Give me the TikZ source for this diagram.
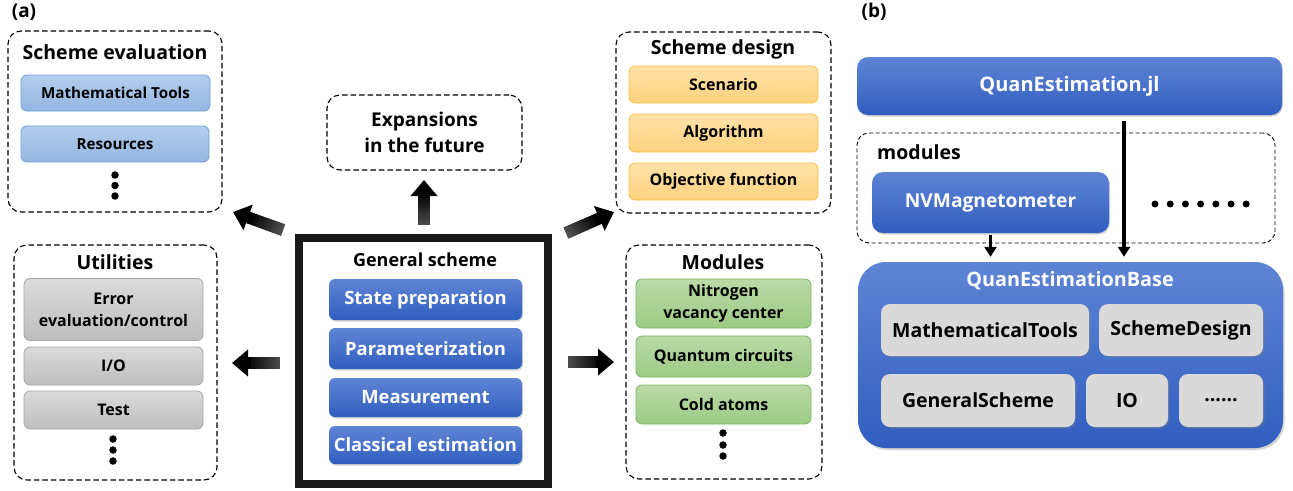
\documentclass[tikz,border=0pt]{standalone}
\usepackage{fontspec}
\setmainfont{Open Sans}
\usetikzlibrary{arrows.meta,shadows,positioning,calc,fadings}
\definecolor{lbtop}{HTML}{B3CDEC}
\definecolor{lbbot}{HTML}{94B6E1}
\definecolor{lbdraw}{HTML}{6FA0D8}
\definecolor{gytop}{HTML}{DADADA}
\definecolor{gybot}{HTML}{BEBEBE}
\definecolor{gydraw}{HTML}{A6A6A6}
\definecolor{bltop}{HTML}{5F84D5}
\definecolor{blbot}{HTML}{305EBF}
\definecolor{ortop}{HTML}{FFE2A8}
\definecolor{orbot}{HTML}{FFD27E}
\definecolor{ordraw}{HTML}{F6C445}
\definecolor{grtop}{HTML}{B9DAA7}
\definecolor{grbot}{HTML}{9CCB85}
\definecolor{grdraw}{HTML}{7DB55F}
\definecolor{gbox}{HTML}{D9D9D9}
\definecolor{tailgray}{HTML}{5A5A5A}
\tikzset{
  every node/.style={font=\bfseries, inner sep=0pt},
  dashbox/.style={draw=black, line width=1.1pt, dash pattern=on 5.5pt off 3pt, rounded corners=13pt},
  ttl/.style={font=\bfseries\fontsize{19.5}{21}\selectfont},
  lblue/.style={draw=lbdraw, line width=0.8pt, top color=lbtop, bottom color=lbbot, rounded corners=6pt, font=\bfseries\fontsize{15.2}{17}\selectfont, align=center},
  lgray/.style={draw=gydraw, line width=0.8pt, top color=gytop, bottom color=gybot, rounded corners=6pt, font=\bfseries\fontsize{16}{22}\selectfont, align=center},
  lorange/.style={draw=ordraw, line width=0.8pt, top color=ortop, bottom color=orbot, rounded corners=6pt, font=\bfseries\fontsize{16}{17}\selectfont, align=center},
  lgreen/.style={draw=grdraw, line width=0.8pt, top color=grtop, bottom color=grbot, rounded corners=6pt, font=\bfseries\fontsize{16}{21.5}\selectfont, align=center},
  bluebox/.style={top color=bltop, bottom color=blbot, rounded corners=6pt, text=white, font=\bfseries\fontsize{18.4}{20}\selectfont,
    drop shadow={opacity=0.35, shadow xshift=1pt, shadow yshift=-1.5pt}},
  graybox/.style={fill=gbox, rounded corners=9pt, font=\bfseries\fontsize{19.5}{20}\selectfont,
    drop shadow={opacity=0.35, shadow xshift=1.5pt, shadow yshift=-1.5pt}},
  fatarrow/.style={line width=12pt, black, -{Triangle[length=16pt, width=26pt]}},
  tailfade/.style={line width=12pt, tailgray, path fading=east},
  thinarrow/.style={line width=3.5pt, black, -{Triangle[length=10pt, width=12pt]}},
  dotmark/.style={circle, fill=black, minimum size=7.5pt},
  panel/.style={font=\bfseries\fontsize{19}{20}\selectfont}
}
\begin{document}
\begin{tikzpicture}[x=1pt,y=-1pt]
\useasboundingbox[fill=white] (0,0) rectangle (1293,490);

% panel labels
\node[panel] (la) at (24,12) {(a)};
\node[panel] (lb) at (874,12) {(b)};

% Scheme evaluation
\node[dashbox, minimum width=214pt, minimum height=181pt] (se) at (115,121.5) {};
\node[ttl] (set) at (115,52) {Scheme evaluation};
\node[lblue, minimum width=189pt, minimum height=36pt] (mt) at (115.5,93) {Mathematical Tools};
\node[lblue, minimum width=188pt, minimum height=36pt] (res) at (115,144) {Resources};
\node[dotmark] (sed1) at (115,175) {};
\node[dotmark] (sed2) at (115,185.5) {};
\node[dotmark] (sed3) at (115,196) {};

% Utilities
\node[dashbox, minimum width=203pt, minimum height=235pt] (ut) at (115.5,362.5) {};
\node[ttl] (utt) at (115,262) {Utilities};
\node[lgray, minimum width=179pt, minimum height=62pt] (err) at (113.5,309.5) {Error\\evaluation/control};
\node[lgray, minimum width=179pt, minimum height=38pt] (io) at (113.5,366) {I/O};
\node[lgray, minimum width=179pt, minimum height=38pt] (test) at (113.5,410) {Test};
\node[dotmark] (utd1) at (113,439) {};
\node[dotmark] (utd2) at (113,450) {};
\node[dotmark] (utd3) at (113,461) {};

% Expansions
\node[dashbox, minimum width=195pt, minimum height=75pt, font=\bfseries\fontsize{19}{26}\selectfont, align=center] (exp) at (424.5,132.5) {Expansions\\in the future};

% General scheme
\node[draw=black!90, line width=8pt, minimum width=249pt, minimum height=246pt] (gs) at (423.5,361) {};
\node[font=\bfseries\fontsize{18}{20}\selectfont] (gst) at (425,260) {General scheme};
\node[bluebox, minimum width=193pt, minimum height=41pt] (sp) at (425.5,299.5) {State preparation};
\node[bluebox, minimum width=193pt, minimum height=41pt] (par) at (425.5,348.5) {Parameterization};
\node[bluebox, minimum width=193pt, minimum height=39pt] (meas) at (425.5,397.5) {Measurement};
\node[bluebox, minimum width=193pt, minimum height=38pt] (ce) at (425.5,445) {Classical estimation};

% Scheme design
\node[dashbox, minimum width=215pt, minimum height=181pt] (sd) at (723.5,122.5) {};
\node[ttl] (sdt) at (723,49) {Scheme design};
\node[lorange, minimum width=189pt, minimum height=37pt] (scen) at (723.5,84.5) {Scenario};
\node[lorange, minimum width=189pt, minimum height=38pt] (alg) at (723.5,133) {Algorithm};
\node[lorange, minimum width=189pt, minimum height=37pt] (obj) at (723.5,181.5) {Objective function};

% Modules
\node[dashbox, minimum width=196pt, minimum height=234pt] (mod) at (724,362) {};
\node[ttl] (modt) at (723,262) {Modules};
\node[lgreen, minimum width=175pt, minimum height=49pt] (nv) at (723.5,303.5) {Nitrogen\\vacancy center};
\node[lgreen, minimum width=175pt, minimum height=41pt] (qc) at (723.5,356.5) {Quantum circuits};
\node[lgreen, minimum width=175pt, minimum height=39pt] (ca) at (723.5,404.5) {Cold atoms};
\node[dotmark] (mdd1) at (723,433) {};
\node[dotmark] (mdd2) at (723,445) {};
\node[dotmark] (mdd3) at (723,456) {};

% fat arrows
\coordinate (ulT) at (283,230);
\coordinate (ulH) at (233,212);
\coordinate (urT) at (566,233);
\coordinate (urH) at (614,212);
\coordinate (upT) at (424,225);
\coordinate (upH) at (424,180);
\coordinate (lT) at (280,363);
\coordinate (lH) at (232,363);
\coordinate (rT) at (568,362);
\coordinate (rH) at (614,362);
\draw[fatarrow] (ulT) -- (ulH);
\draw[fatarrow] (urT) -- (urH);
\draw[fatarrow] (upT) -- (upH);
\draw[fatarrow] (lT) -- (lH);
\draw[fatarrow] (rT) -- (rH);
\draw[tailfade, fading angle=160] (ulT) -- ($(ulT)!0.6!(ulH)$);
\draw[tailfade, fading angle=23] (urT) -- ($(urT)!0.6!(urH)$);
\draw[tailfade, fading angle=90] (upT) -- ($(upT)!0.6!(upH)$);
\draw[tailfade, fading angle=180] (lT) -- ($(lT)!0.6!(lH)$);
\draw[tailfade, fading angle=0] (rT) -- ($(rT)!0.6!(rH)$);

% ---------- panel (b)
\node[bluebox, rounded corners=11pt, font=\bfseries\fontsize{20}{22}\selectfont, minimum width=425pt, minimum height=58pt] (qe) at (1069.5,86) {QuanEstimation.jl};
\node[draw=black, line width=0.9pt, dash pattern=on 4pt off 2.5pt, rounded corners=12pt, minimum width=418pt, minimum height=110pt] (modb) at (1066,188) {};
\node[font=\bfseries\fontsize{19.5}{20}\selectfont, anchor=west] (modl) at (877,152) {modules};
\node[bluebox, rounded corners=11pt, font=\bfseries\fontsize{19.2}{22}\selectfont, minimum width=237pt, minimum height=61pt] (nvm) at (990.5,202.5) {NVMagnetometer};
\foreach \i in {0,...,6}{
  \node[dotmark, minimum size=7pt] (bd\i) at (1155+15.2*\i,204) {};
}
\node[top color=bltop, bottom color=blbot, rounded corners=28pt, minimum width=425pt, minimum height=186pt,
  drop shadow={opacity=0.35, shadow xshift=1.5pt, shadow yshift=-2pt}] (qeb) at (1070.5,355) {};
\node[text=white, font=\bfseries\fontsize{19.8}{22}\selectfont] (qebt) at (1070,281) {QuanEstimationBase};
\node[graybox, minimum width=208pt, minimum height=52pt] (mtools) at (985,330) {MathematicalTools};
\node[graybox, minimum width=164pt, minimum height=52pt] (sdes) at (1181,330) {SchemeDesign};
\node[graybox, minimum width=194pt, minimum height=53pt] (gsch) at (978,400.5) {GeneralScheme};
\node[graybox, minimum width=82pt, minimum height=53pt] (io2) at (1127,400.5) {IO};
\node[graybox, minimum width=84pt, minimum height=53pt] (more) at (1221,400.5) {......};

\draw[thinarrow, shorten <=2pt, shorten >=5pt] (nvm.south) -- (nvm.south |- qeb.north);
\coordinate (lnT) at (1124,121);
\draw[thinarrow, shorten >=5pt] (lnT) -- (lnT |- qeb.north);
\end{tikzpicture}
\end{document}
